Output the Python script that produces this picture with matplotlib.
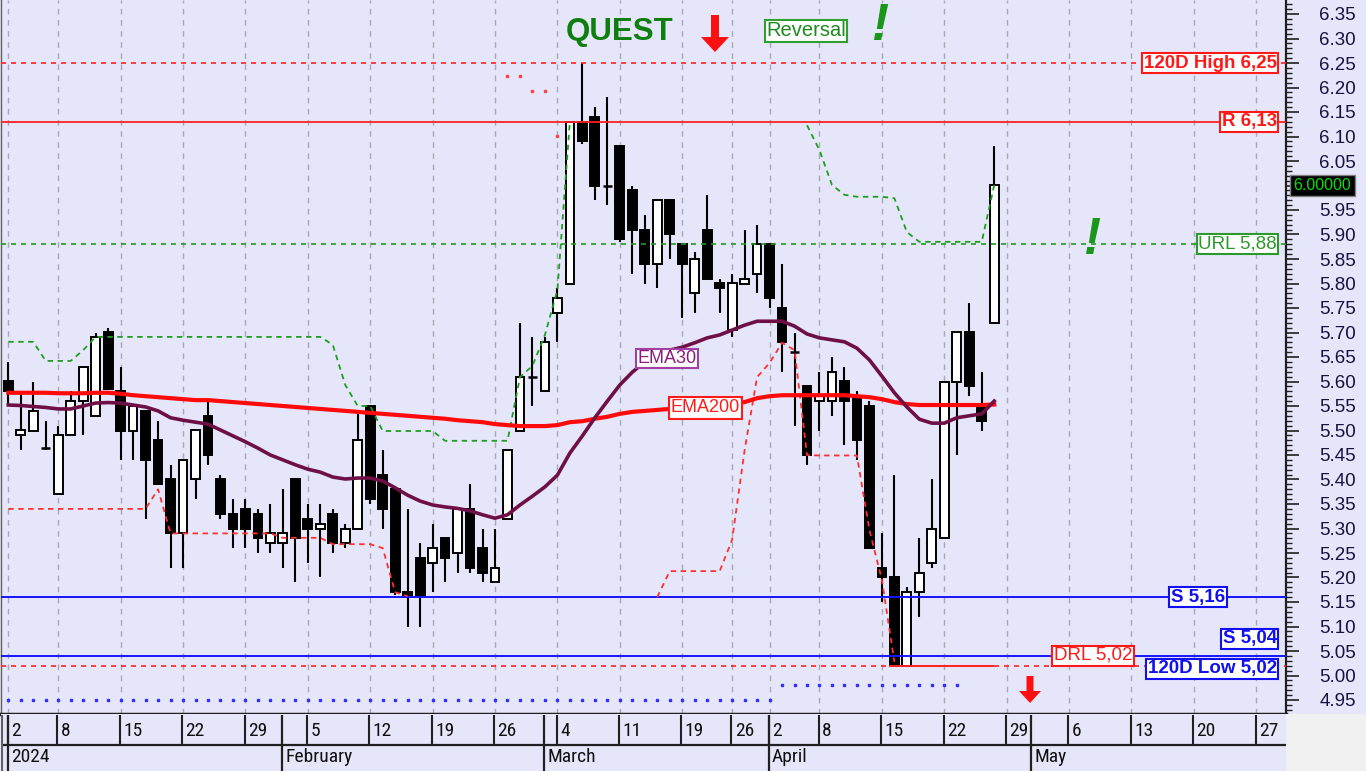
import numpy as np
import matplotlib
matplotlib.use('Agg')
import matplotlib.pyplot as plt
from matplotlib.patches import FancyArrow, Rectangle
from matplotlib.transforms import blended_transform_factory
from matplotlib.ticker import FixedLocator, FuncFormatter

plt.rcParams['font.family'] = ['Liberation Sans', 'DejaVu Sans']

# ---------------- data (trading-day index 0 = 2 Jan 2024) ----------------
opens = [5.60, 5.49, 5.50, 5.465, 5.37, 5.49, 5.56, 5.53, 5.70, 5.58,
         5.50, 5.54, 5.48, 5.40, 5.29, 5.40, 5.53, 5.40, 5.33, 5.34,
         5.33, 5.27, 5.27, 5.40, 5.32, 5.30, 5.33, 5.27, 5.30, 5.55,
         5.41, 5.38, 5.17, 5.24, 5.23, 5.28, 5.25, 5.34, 5.26, 5.19,
         5.32, 5.50, 5.61, 5.58, 5.74, 5.80, 6.13, 6.14, 6.00, 6.08,
         5.99, 5.91, 5.84, 5.97, 5.88, 5.78, 5.91, 5.80, 5.705, 5.80,
         5.82, 5.88, 5.75, 5.66, 5.59, 5.56, 5.56, 5.60, 5.57, 5.55,
         5.22, 5.20, 5.02, 5.17, 5.23, 5.28, 5.60, 5.70, 5.545, 5.72]
highs = [5.64, 5.58, 5.60, 5.52, 5.51, 5.58, 5.63, 5.70, 5.71, 5.63,
         5.55, 5.54, 5.52, 5.43, 5.44, 5.50, 5.56, 5.41, 5.36, 5.36,
         5.34, 5.35, 5.38, 5.40, 5.35, 5.35, 5.34, 5.31, 5.54, 5.55,
         5.46, 5.38, 5.34, 5.27, 5.31, 5.28, 5.34, 5.39, 5.30, 5.30,
         5.46, 5.72, 5.69, 5.69, 5.79, 6.13, 6.25, 6.16, 6.18, 6.08,
         6.00, 5.94, 5.97, 5.97, 5.88, 5.865, 5.98, 5.81, 5.82, 5.91,
         5.92, 5.88, 5.84, 5.70, 5.59, 5.62, 5.65, 5.63, 5.58, 5.56,
         5.29, 5.41, 5.18, 5.28, 5.40, 5.60, 5.70, 5.76, 5.62, 6.08]
lows = [5.55, 5.46, 5.50, 5.46, 5.37, 5.49, 5.49, 5.53, 5.585, 5.44,
        5.44, 5.32, 5.39, 5.22, 5.22, 5.36, 5.43, 5.32, 5.26, 5.26,
        5.25, 5.25, 5.22, 5.19, 5.23, 5.20, 5.25, 5.26, 5.30, 5.35,
        5.30, 5.165, 5.10, 5.10, 5.17, 5.19, 5.21, 5.21, 5.19, 5.19,
        5.32, 5.50, 5.55, 5.58, 5.68, 5.80, 6.085, 5.97, 5.96, 5.885,
        5.82, 5.80, 5.79, 5.85, 5.73, 5.74, 5.81, 5.74, 5.69, 5.80,
        5.78, 5.75, 5.62, 5.51, 5.43, 5.50, 5.53, 5.47, 5.44, 5.26,
        5.15, 5.02, 5.02, 5.12, 5.22, 5.28, 5.45, 5.57, 5.50, 5.72]
closes = [5.58, 5.50, 5.54, 5.465, 5.49, 5.56, 5.63, 5.69, 5.585, 5.50,
          5.55, 5.44, 5.39, 5.29, 5.44, 5.50, 5.45, 5.33, 5.30, 5.30,
          5.28, 5.29, 5.29, 5.28, 5.30, 5.31, 5.27, 5.30, 5.48, 5.36,
          5.34, 5.17, 5.16, 5.16, 5.26, 5.24, 5.34, 5.22, 5.21, 5.22,
          5.46, 5.61, 5.61, 5.68, 5.77, 6.13, 6.09, 6.00, 6.00, 5.89,
          5.91, 5.84, 5.97, 5.90, 5.84, 5.85, 5.81, 5.79, 5.80, 5.81,
          5.88, 5.77, 5.68, 5.66, 5.45, 5.57, 5.62, 5.56, 5.48, 5.26,
          5.20, 5.02, 5.17, 5.21, 5.30, 5.60, 5.70, 5.59, 5.52, 6.00]

ema30 = [5.552, 5.551, 5.549, 5.547, 5.544, 5.544, 5.550, 5.556, 5.557, 5.556,
         5.552, 5.548, 5.540, 5.526, 5.521, 5.517, 5.513, 5.501, 5.489, 5.477,
         5.464, 5.450, 5.440, 5.430, 5.421, 5.415, 5.405, 5.401, 5.403, 5.403,
         5.397, 5.383, 5.368, 5.356, 5.348, 5.344, 5.341, 5.336, 5.328, 5.321,
         5.328, 5.348, 5.366, 5.385, 5.409, 5.454, 5.489, 5.526, 5.560, 5.593,
         5.619, 5.640, 5.654, 5.664, 5.670, 5.679, 5.689, 5.695, 5.705, 5.715,
         5.723, 5.723, 5.723, 5.713, 5.697, 5.689, 5.685, 5.681, 5.668, 5.644,
         5.611, 5.577, 5.548, 5.523, 5.515, 5.515, 5.526, 5.530, 5.534, 5.560]
ema200 = [5.577, 5.577, 5.577, 5.577, 5.576, 5.576, 5.576, 5.577, 5.577, 5.575,
          5.572, 5.570, 5.568, 5.566, 5.564, 5.562, 5.562, 5.560, 5.558, 5.556,
          5.554, 5.552, 5.550, 5.548, 5.546, 5.544, 5.542, 5.540, 5.538, 5.536,
          5.534, 5.532, 5.530, 5.528, 5.526, 5.524, 5.521, 5.519, 5.517, 5.513,
          5.511, 5.509, 5.509, 5.509, 5.511, 5.517, 5.519, 5.524, 5.528, 5.534,
          5.538, 5.540, 5.542, 5.544, 5.546, 5.548, 5.550, 5.552, 5.554, 5.558,
          5.566, 5.570, 5.572, 5.572, 5.572, 5.572, 5.572, 5.572, 5.570, 5.568,
          5.564, 5.558, 5.554, 5.552, 5.552, 5.552, 5.552, 5.552, 5.552, 5.553]

nan = float('nan')
stop_up = [5.681, 5.681, 5.681, 5.642, 5.642, 5.642, 5.664, 5.691, 5.691, 5.691,
           5.691, 5.691, 5.691, 5.691, 5.691, 5.691, 5.691, 5.691, 5.691, 5.691,
           5.691, 5.691, 5.691, 5.691, 5.691, 5.691, 5.675, 5.593, 5.550, 5.550,
           5.499, 5.499, 5.499, 5.499, 5.499, 5.479, 5.479, 5.479, 5.479, 5.479,
           5.479, 5.609, 5.632, 5.695, 5.787, 6.132, nan, nan, nan, nan,
           nan, nan, nan, nan, nan, nan, nan, nan, nan, nan,
           nan, nan, nan, nan, 6.123, 6.072, 6.001, 5.981, 5.977, 5.977,
           5.977, 5.974, 5.905, 5.885, 5.885, 5.885, 5.885, 5.885, 5.885, 6.001]
stop_dn = [5.340, 5.340, 5.340, 5.340, 5.340, 5.340, 5.340, 5.340, 5.340, 5.340,
           5.340, 5.340, 5.380, 5.290, 5.290, 5.290, 5.290, 5.290, 5.290, 5.290,
           5.290, 5.290, 5.281, 5.281, 5.281, 5.281, 5.268, 5.268, 5.268, 5.268,
           5.260, 5.170, 5.162, nan, nan, nan, nan, nan, nan, nan,
           nan, nan, nan, nan, nan, nan, nan, nan, nan, nan,
           nan, nan, 5.160, 5.213, 5.213, 5.213, 5.213, 5.213, 5.277, 5.460,
           5.609, 5.638, 5.679, 5.664, 5.450, 5.449, 5.449, 5.449, 5.449, 5.297,
           5.195, 5.028, nan, nan, nan, nan, nan, nan, nan, nan]
stop_dn_top = [nan] * 40 + [6.223, 6.223, 6.193, 6.193, 6.101] + [nan] * 35
support_dots = [4.950] * 62 + [4.981] * 15 + [nan] * 3

week_ticks = [0, 4, 9, 14, 19, 24, 29, 34, 39, 44, 49, 54, 58, 61, 65, 70, 75, 80, 85, 90, 95, 100]
week_labels = ['2', '8', '15', '22', '29', '5', '12', '19', '26', '4', '11', '19', '26',
               '2', '8', '15', '22', '29', '6', '13', '20', '27']
month_starts = [0, 22, 43, 61, 82]
month_labels = ['2024', 'February', 'March', 'April', 'May']

high120, res, url, sup1, sup2, low120, drl = 6.25, 6.13, 5.88, 5.16, 5.04, 5.02, 5.02
last_close = 6.00

# ---------------- geometry helpers ----------------
W, H = 1366, 771
X0, DX = 8.3, 12.48      # pixel x of index 0, pixels per trading day
P0, PPU = 6.35, 490.0    # price at pixel row 14, pixels per price unit
def px2x(px): return (px - X0) / DX
def py2p(py): return P0 - (py - 14) / PPU

BG = '#E6E6FA'
AX_L, AX_R, AX_T, AX_B = 1, 1286, 0, 714

fig = plt.figure(figsize=(W / 100, H / 100), dpi=100)
fig.patch.set_facecolor(BG)
ax = fig.add_axes([AX_L / W, 1 - AX_B / H, (AX_R - AX_L) / W, (AX_B - AX_T) / H])
ax.set_facecolor(BG)
ax.set_xlim(px2x(AX_L), px2x(AX_R))
ax.set_ylim(py2p(AX_B), py2p(AX_T))

# right price axis
major = np.round(np.arange(4.95, 6.351, 0.05), 2)
minor = np.round(np.arange(4.93, 6.376, 0.01), 2)
ax.yaxis.tick_right()
ax.yaxis.set_major_locator(FixedLocator(major))
ax.yaxis.set_minor_locator(FixedLocator(minor))
ax.yaxis.set_major_formatter(FuncFormatter(lambda v, p: '' if abs(v - last_close) < 1e-6 else f'{v:.2f}'))
ax.tick_params(axis='y', which='major', direction='out', length=9, width=1.2, pad=15,
               labelsize=13.5, labelcolor='#141440', color='#202020')
ax.tick_params(axis='y', which='minor', direction='out', length=4, width=1.0, color='#202020')

ax.set_xticks(week_ticks)
ax.tick_params(axis='x', length=0, labelbottom=False)
ax.grid(axis='x', color='#A8A8B4', ls=(0, (4, 4)), lw=1.0)
ax.set_axisbelow(True)
ax.spines['top'].set_visible(False)
ax.spines['left'].set_color('#606060'); ax.spines['left'].set_linewidth(1)
ax.spines['right'].set_color('#202020'); ax.spines['right'].set_linewidth(1.6)
ax.spines['bottom'].set_color('#202020'); ax.spines['bottom'].set_linewidth(2.5)

# ---------------- candles ----------------
idx = np.arange(len(opens))
o = np.array(opens); c = np.array(closes); h = np.array(highs); l = np.array(lows)
ax.vlines(idx, l, h, color='black', lw=1.5, zorder=3)
body_b = np.minimum(o, c); body_h = np.abs(c - o)
doji = body_h < 0.003
upm = (c > o) & ~doji
dnm = (c < o) & ~doji
ax.bar(idx[upm], body_h[upm], bottom=body_b[upm], width=0.7, facecolor='white',
       edgecolor='black', lw=1.4, zorder=4)
ax.bar(idx[dnm], body_h[dnm], bottom=body_b[dnm], width=0.7, facecolor='black',
       edgecolor='black', lw=1.4, zorder=4)
ax.hlines(o[doji], idx[doji] - 0.36, idx[doji] + 0.36, color='black', lw=1.8, zorder=4)

# ---------------- level lines ----------------
ax.axhline(high120, color='#FF2020', lw=1.2, ls=(0, (3, 3)), zorder=5)
ax.axhline(res, color='#FF2020', lw=1.3, zorder=5)
ax.axhline(url, color='#229922', lw=1.2, ls=(0, (3, 3)), zorder=5)
ax.axhline(sup1, color='#1515FF', lw=1.4, zorder=5)
ax.axhline(sup2, color='#1515FF', lw=1.4, zorder=5)
xl = ax.get_xlim()
ax.hlines(low120, xl[0], 70.6, color='#FF2020', lw=1.2, ls=(0, (3, 3)), zorder=5)
ax.hlines(drl, 70.6, 79, color='#FF2020', lw=1.4, zorder=5)
ax.hlines(low120, 79, xl[1], color='#FF2020', lw=1.2, ls=(0, (3, 3)), zorder=5)

# trailing stops and dots
ax.plot(idx, stop_up, color='#1E9E1E', lw=1.3, ls=(0, (3, 2.5)), zorder=5)
ax.plot(idx, stop_dn, color='#FF3030', lw=1.3, ls=(0, (3, 2.5)), zorder=5)
ax.plot(idx, stop_dn_top, ls='none', marker='s', ms=2, color='#FF4040', zorder=5)
ax.plot(idx, support_dots, ls='none', marker='s', ms=1.5, color='#3030FF', zorder=5)

# moving averages
ax.plot(idx, ema200, color='#FF0A0A', lw=3.0, zorder=6)
ax.plot(idx, ema30, color='#6E1046', lw=2.6, zorder=7)

# ---------------- labels ----------------
def box(xpx, price, text, color, bold=False, ha='right', fs=13.5, tc=None, pad=0.08):
    ax.text(px2x(xpx), price, text, color=tc or color, fontsize=fs,
            fontweight='bold' if bold else 'normal', ha=ha, va='center', zorder=10,
            bbox=dict(boxstyle=f'square,pad={pad}', fc='white', ec=color, lw=1.5))

box(1277, high120, '120D High 6,25', '#FF1A1A', bold=True)
box(1277, res, 'R 6,13', '#FF1A1A', bold=True)
box(1277, url, 'URL 5,88', '#2A9A2A', fs=13.5)
box(1198, sup1, 'S 5,16', '#1010F0', bold=True, ha='center')
box(1277, py2p(638.5), 'S 5,04', '#1010F0', bold=True)
box(1277, py2p(669), '120D Low 5,02', '#1010F0', bold=True)
box(1093, py2p(655.5), 'DRL 5,02', '#FF1A1A', ha='center', fs=13.5)
box(667, py2p(358.5), 'EMA30', '#A040A0', ha='center', fs=13, tc='#8B1C7B')
box(705.5, py2p(408), 'EMA200', '#FF1A1A', ha='center', fs=13, pad=0.12)
box(806, py2p(31), 'Reversal', '#2EA02E', ha='center', fs=14.5, tc='#1F8A1F')

ax.text(px2x(620), py2p(32), 'QUEST', color='#0E7F0E', fontsize=22.5, fontweight='bold',
        ha='center', va='center', zorder=10)
ax.text(px2x(880), py2p(27), '!', color='#1A961A', fontsize=37, fontweight='bold',
        fontstyle='italic', ha='center', va='center', zorder=10)
ax.text(px2x(1092), py2p(240), '!', color='#1A961A', fontsize=37, fontweight='bold',
        fontstyle='italic', ha='center', va='center', zorder=10)

ax.add_patch(FancyArrow(px2x(715), py2p(15), 0, py2p(52) - py2p(15), width=8 / DX,
                        head_width=28 / DX, head_length=15 / PPU, length_includes_head=True,
                        fc='#FF1010', ec='none', zorder=10))
ax.add_patch(FancyArrow(px2x(1030), py2p(676), 0, py2p(703) - py2p(676), width=7 / DX,
                        head_width=22 / DX, head_length=12 / PPU, length_includes_head=True,
                        fc='#FF1010', ec='none', zorder=10, clip_on=False))

tr = blended_transform_factory(ax.transAxes, ax.transData)
ax.text((1322.5 - AX_L) / (AX_R - AX_L), last_close, '6.00000', transform=tr, color='#00E000',
        fontsize=11.5, ha='center', va='center', clip_on=False, zorder=12,
        bbox=dict(boxstyle='square,pad=0.2', fc='black', ec='#808080', lw=1))

# ---------------- date panel ----------------
axd = fig.add_axes([AX_L / W, 0, (AX_R - AX_L) / W, (H - AX_B) / H])
axd.set_facecolor(BG)
axd.set_xlim(ax.get_xlim()); axd.set_ylim(H, AX_B)
axd.set_xticks([]); axd.set_yticks([])
for s in axd.spines.values():
    s.set_visible(False)
axd.hlines(744.5, xl[0], xl[1], color='#202020', lw=1.6)
axd.vlines(np.array(week_ticks) - 0.06, 715, 744.5, color='#202020', lw=1.5)
axd.vlines(np.array(month_starts) - 0.06, 715, H, color='#202020', lw=1.6)
axd.vlines(xl[0] + 0.05, 715, H, color='#606060', lw=1.5)
narrow = ['Liberation Sans Narrow', 'Roboto Condensed', 'Liberation Sans', 'DejaVu Sans']
for t, lab in zip(week_ticks, week_labels):
    axd.text(t + 0.2, 731, lab, family=narrow, fontsize=14, color='#101010',
             ha='left', va='center')
for t, lab in zip(month_starts, month_labels):
    axd.text(t + 0.2, 757, lab, family=narrow, fontsize=14, color='#101010',
             ha='left', va='center')

fig.add_artist(Rectangle((AX_R / W, 0), 1 - AX_R / W, (H - AX_B) / H, transform=fig.transFigure,
                         fc='#F0F0F0', ec='none'))

fig.savefig('out.png', dpi=100, facecolor=fig.get_facecolor())
